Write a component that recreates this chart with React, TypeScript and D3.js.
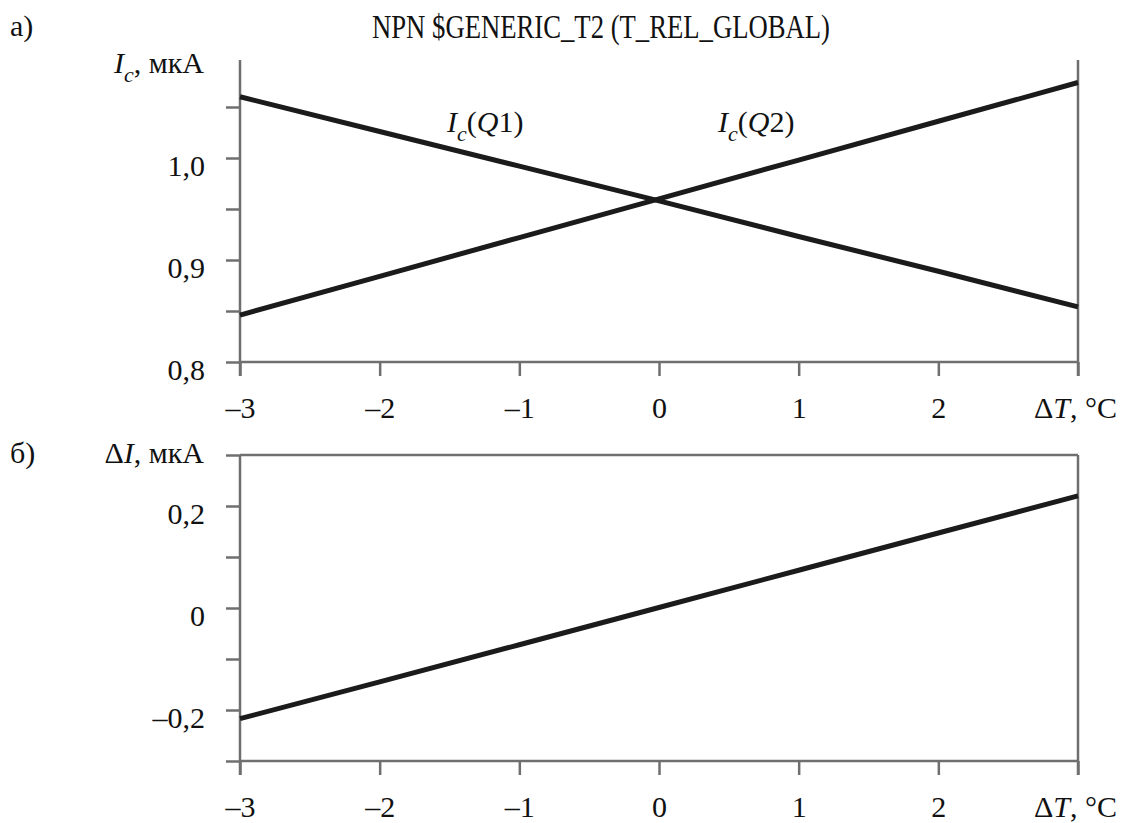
import React, { useRef, useEffect } from "react";
import * as d3 from "d3";

// temperature offset, °C
const dT = [-3, -2, -1, 0, 1, 2, 3];
// collector currents, uA
const icQ1 = [1.06, 1.026, 0.992, 0.958, 0.923, 0.889, 0.854];
const icQ2 = [0.846, 0.884, 0.922, 0.96, 0.998, 1.036, 1.074];
// difference, uA
const deltaI = [-0.217, -0.145, -0.072, 0.001, 0.074, 0.147, 0.22];

const xTickLabels = ["–3", "–2", "–1", "0", "1", "2", ""];
const topYTicks = [0.8, 0.85, 0.9, 0.95, 1.0, 1.05];
const topYLabels = ["0,8", "", "0,9", "", "1,0", ""];
const botYTicks = [-0.3, -0.2, -0.1, 0, 0.1, 0.2, 0.3];
const botYLabels = ["", "–0,2", "", "0", "", "0,2", ""];

const FONT = "Liberation Serif, DejaVu Serif, serif";
const AXIS = "#6f6f6f";
const INK = "#1b1b1b";

const App = () => {
  const svgRef = useRef(null);

  useEffect(() => {
    const svg = d3.select(svgRef.current);
    svg.selectAll("*").remove();

    const x = d3.scaleLinear().domain([-3, 3]).range([240, 1078]);
    const yTop = d3.scaleLinear().domain([0.8, 1.1]).range([362, 56]);
    const yBot = d3.scaleLinear().domain([-0.3, 0.3]).range([761, 455]);

    const styleAxis = (g) => {
      g.attr("font-family", FONT).attr("font-size", 30);
      g.select(".domain").remove();
      g.selectAll("line").attr("stroke", AXIS).attr("stroke-width", 2.5);
      g.selectAll("text").attr("fill", "#111");
    };

    const panel = (y, yTicks, yLabels, top, xAxisY) => {
      const g = svg.append("g");
      // y axis
      g.append("g")
        .attr("transform", "translate(240,0)")
        .call(
          d3.axisLeft(y).tickValues(yTicks).tickSize(14).tickPadding(21)
            .tickFormat((d, i) => yLabels[i])
        )
        .call(styleAxis)
        .call((a) => a.selectAll("text").attr("dy", 17));
      // x axis
      g.append("g")
        .attr("transform", `translate(0,${xAxisY})`)
        .call(
          d3.axisBottom(x).tickValues(dT).tickSize(14)
            .tickFormat((d, i) => xTickLabels[i])
        )
        .call(styleAxis)
        .call((a) => a.selectAll("text").attr("y", 56).attr("dy", 0));
      // frame lines
      const frame = [
        [240, top, 240, xAxisY + 14],
        [1078, top, 1078, xAxisY + 14],
        [240, xAxisY, 1078, xAxisY],
      ];
      frame.forEach(([x1, y1, x2, y2]) =>
        g.append("line")
          .attr("x1", x1).attr("y1", y1).attr("x2", x2).attr("y2", y2)
          .attr("stroke", AXIS).attr("stroke-width", 2.5)
      );
      // x axis title
      const t = g.append("text")
        .attr("x", 1117).attr("y", xAxisY + 56)
        .attr("text-anchor", "end")
        .attr("font-family", FONT).attr("font-size", 30).attr("fill", "#111");
      t.append("tspan").text("Δ");
      t.append("tspan").attr("font-style", "italic").text("T");
      t.append("tspan").text(", °C");
      return g;
    };

    const gTop = panel(yTop, topYTicks, topYLabels, 60, 362);
    const gBot = panel(yBot, botYTicks, botYLabels, 455, 761);
    gBot.append("line")
      .attr("x1", 240).attr("y1", 455).attr("x2", 1078).attr("y2", 455)
      .attr("stroke", AXIS).attr("stroke-width", 2.5);

    const lineTop = d3.line().x((d) => x(d[0])).y((d) => yTop(d[1]));
    const lineBot = d3.line().x((d) => x(d[0])).y((d) => yBot(d[1]));

    [icQ1, icQ2].forEach((s) =>
      gTop.append("path")
        .attr("d", lineTop(dT.map((v, i) => [v, s[i]])))
        .attr("fill", "none").attr("stroke", INK).attr("stroke-width", 5)
    );
    gBot.append("path")
      .attr("d", lineBot(dT.map((v, i) => [v, deltaI[i]])))
      .attr("fill", "none").attr("stroke", INK).attr("stroke-width", 5);

    const txt = (xx, yy, anchor = "start") =>
      svg.append("text")
        .attr("x", xx).attr("y", yy).attr("text-anchor", anchor)
        .attr("font-family", FONT).attr("font-size", 30).attr("fill", "#111");

    txt(10, 36).text("а)");
    txt(10, 463).text("б)");
    txt(601, 38, "middle")
      .attr("font-size", 33)
      .attr("textLength", 458).attr("lengthAdjust", "spacingAndGlyphs")
      .text("NPN $GENERIC_T2 (T_REL_GLOBAL)");

    const ic = txt(204, 73, "end");
    ic.append("tspan").attr("font-style", "italic").text("I");
    ic.append("tspan").attr("font-style", "italic").attr("font-size", 22).attr("dy", 9).text("c");
    ic.append("tspan").attr("dy", -9).text(", мкА");

    const di = txt(204, 463, "end");
    di.append("tspan").text("Δ");
    di.append("tspan").attr("font-style", "italic").text("I");
    di.append("tspan").text(", мкА");

    [[447, "1"], [718, "2"]].forEach(([xx, n]) => {
      const l = txt(xx, 132);
      l.append("tspan").attr("font-style", "italic").text("I");
      l.append("tspan").attr("font-style", "italic").attr("font-size", 22).attr("dy", 9).text("c");
      l.append("tspan").attr("dy", -9).text("(");
      l.append("tspan").attr("font-style", "italic").text("Q");
      l.append("tspan").text(`${n})`);
    });
  }, []);

  return (
    <svg
      ref={svgRef}
      width={1127}
      height={823}
      style={{ position: "absolute", left: 0, top: 0, background: "#fff" }}
    ></svg>
  );
};

export default App;
